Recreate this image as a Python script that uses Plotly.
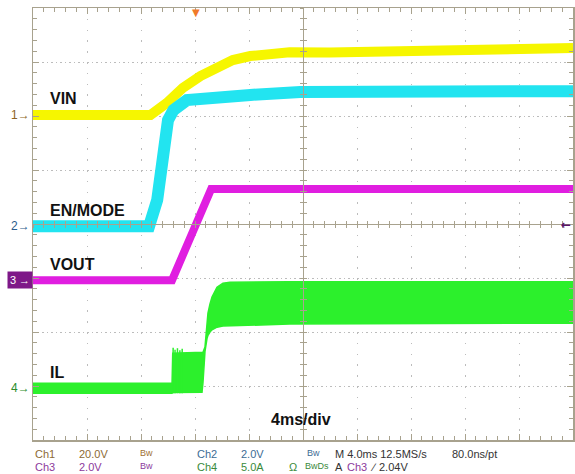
import plotly.graph_objects as go

# ---------------- data ----------------
# time in ms (4 ms/div, 0 = screen centre)
vin_t = [-20, -11.3, -10.1, -8.9, -7.6, -6.4, -5.2, -3.9, -2.4, -1.0, 2.0, 5.3, 5.7, 8.7, 13.1, 16.1, 20]
vin_v = [0, 0, 4.4, 10.0, 14.4, 17.7, 20.3, 21.8, 22.6, 23.2, 23.1, 23.3, 24.2, 24.4, 24.5, 24.8, 24.8]  # V

en_t = [-20, -11.4, -10.8, -10.4, -10.0, -9.6, -8.6, -3.9, -0.2, 20]
en_v = [0, 0, 0.97, 2.82, 3.93, 4.30, 4.67, 4.86, 4.97, 5.0]  # V

vout_t = [-20, -9.7, -6.8, 20]
vout_v = [0, 0, 3.38, 3.38]  # V

il_t = [-20, -9.70, -9.65, -7.48, -7.41, -7.26, -7.11, -7.04, -6.89, -6.74, -6.37, -5.93, -5.41, -1.0, 20]
il_hi = [0.46, 0.46, 3.24, 3.30, 3.33, 3.80, 5.80, 6.94, 7.80, 8.43, 9.35, 9.72, 9.81, 9.85, 9.85]  # A
il_lo = [-0.46, -0.46, -0.40, -0.37, 0.50, 3.40, 4.60, 4.90, 5.20, 5.40, 5.65, 5.75, 5.83, 5.93, 6.02]  # A
il_spike_t = [-9.62, -9.48, -9.30, -9.12, -8.95]
il_spike_a = [3.75, 3.55, 3.70, 3.50, 3.65]

# scope settings
ch_labels = ["VIN", "EN/MODE", "VOUT", "IL"]
ch_scale = [20.0, 2.0, 2.0, 5.0]          # units per division
ch_offset = [2.02, -0.04, -1.04, -3.04]   # divisions
time_per_div = 4.0
n_hdiv, n_vdiv = 10, 8
trigger_time = -7.93     # ms
trigger_level = 2.04     # V on Ch3

row1 = ["Ch1", "20.0V", "Bw", "Ch2", "2.0V", "Bw", "M 4.0ms 12.5MS/s", "80.0ns/pt"]
row2 = ["Ch3", "2.0V", "Bw", "Ch4", "5.0A", "\u03a9", "BwDs", "A", "Ch3", "\u2215", "2.04V"]

# ---------------- styling ----------------
W, H = 575, 474
L, R, T, B = 33, 573, 8, 440
FONT = "Liberation Sans"
BORDER = "#a8a28e"
GRID = "#bcbcbc"
COL = ["#f6f600", "#22e4f0", "#e01ee0", "#2cf02c"]
TXT_COL = ["#8c6a34", "#3c6c94", "#8c3a9c", "#3a8a3a"]


def to_div(vals, ch):
    return [ch_offset[ch] + v / ch_scale[ch] for v in vals]


def px(xp):
    return (xp - L) / (R - L)


def py(yp):
    return (B - yp) / (B - T)


fig = go.Figure()

# IL band
il_hi_d = to_div(il_hi, 3)
il_lo_d = to_div(il_lo, 3)
fig.add_trace(go.Scatter(
    x=il_t + il_t[::-1], y=il_hi_d + il_lo_d[::-1], fill="toself",
    fillcolor=COL[3], line=dict(color=COL[3], width=1.5), mode="lines", hoverinfo="skip"))
sx, sy = [], []
base = to_div([il_lo[0]], 3)[0]
for t, a in zip(il_spike_t, il_spike_a):
    sx += [t, t, None]
    sy += [base, to_div([a], 3)[0], None]
fig.add_trace(go.Scatter(x=sx, y=sy, mode="lines", line=dict(color=COL[3], width=1.5), hoverinfo="skip"))

# VOUT, VIN, EN
fig.add_trace(go.Scatter(x=vout_t, y=to_div(vout_v, 2), mode="lines",
                         line=dict(color=COL[2], width=8), hoverinfo="skip"))
fig.add_trace(go.Scatter(x=vin_t, y=to_div(vin_v, 0), mode="lines",
                         line=dict(color=COL[0], width=10), hoverinfo="skip"))
fig.add_trace(go.Scatter(x=en_t, y=to_div(en_v, 1), mode="lines",
                         line=dict(color=COL[1], width=12), hoverinfo="skip"))

# invisible traces to hold the centre-cross axes
fig.add_trace(go.Scatter(x=[None], y=[None], xaxis="x2", yaxis="y2", hoverinfo="skip"))
fig.add_trace(go.Scatter(x=[None], y=[None], xaxis="x3", yaxis="y3", hoverinfo="skip"))

xr = [-time_per_div * n_hdiv / 2, time_per_div * n_hdiv / 2]
yr = [-n_vdiv / 2, n_vdiv / 2]

common = dict(showticklabels=False, zeroline=False, tickcolor=BORDER, linecolor=BORDER,
              fixedrange=True, automargin=False)
fig.update_layout(
    width=W, height=H, margin=dict(l=L, r=W - R, t=T, b=H - B, autoexpand=False),
    paper_bgcolor="white", plot_bgcolor="white", showlegend=False,
    xaxis=dict(range=xr, dtick=time_per_div, tick0=0, showgrid=True, gridcolor=GRID,
               griddash="1.5px,9.3px", gridwidth=1, showline=True, linewidth=1.5, mirror="allticks",
               ticks="inside", ticklen=6,
               minor=dict(dtick=time_per_div / 5, ticks="inside", ticklen=4, tickcolor=BORDER, showgrid=False),
               **common),
    yaxis=dict(range=yr, dtick=1, tick0=0, showgrid=True, gridcolor=GRID,
               griddash="1.5px,3px", gridwidth=1, showline=True, linewidth=1.5, mirror="allticks",
               ticks="inside", ticklen=6,
               minor=dict(dtick=0.2, ticks="inside", ticklen=4, tickcolor=BORDER, showgrid=False),
               **common),
    xaxis2=dict(range=xr, overlaying="x", anchor="free", position=0.5, showgrid=False, showline=True,
                linewidth=1, ticks="inside", ticklen=3, dtick=time_per_div, tick0=0,
                minor=dict(dtick=time_per_div / 5, ticks="inside", ticklen=3, tickcolor=BORDER), **common),
    yaxis2=dict(range=yr, overlaying="y", anchor="free", position=0.5, showgrid=False, showline=True,
                linewidth=1, ticks="inside", ticklen=3, dtick=1, tick0=0,
                minor=dict(dtick=0.2, ticks="inside", ticklen=3, tickcolor=BORDER), **common),
    xaxis3=dict(range=xr, overlaying="x", anchor="free", position=0.5, showgrid=False, showline=False,
                ticks="outside", ticklen=3, dtick=time_per_div, tick0=0,
                minor=dict(dtick=time_per_div / 5, ticks="outside", ticklen=3, tickcolor=BORDER), **common),
    yaxis3=dict(range=yr, overlaying="y", anchor="free", position=0.5, showgrid=False, showline=False,
                ticks="outside", ticklen=3, dtick=1, tick0=0,
                minor=dict(dtick=0.2, ticks="outside", ticklen=3, tickcolor=BORDER), **common),
)

ann = []
# trace labels
for text, (xp, yp) in zip(ch_labels, [(48, 98), (48, 210), (48, 264), (48, 372)]):
    ann.append(dict(x=px(xp), y=py(yp), xref="paper", yref="paper", text=f"<b>{text}</b>",
                    xanchor="left", yanchor="middle", showarrow=False,
                    font=dict(family=FONT, size=16, color="#111111")))
ann.append(dict(x=px(301), y=py(419), xref="paper", yref="paper", text="<b>4ms/div</b>",
                xanchor="center", yanchor="middle", showarrow=False,
                font=dict(family=FONT, size=16, color="#111111")))

# channel ground markers
mk_col = ["#8c6424", "#2c5c8c", "#ffffff", "#2c8c2c"]
for i in range(4):
    yd = ch_offset[i]
    if i == 2:
        ann.append(dict(x=px(33), y=yd, xref="paper", yref="y", text="3 \u2192", xanchor="right",
                        yanchor="middle", showarrow=False, bgcolor="#7e1888", borderpad=2,
                        font=dict(family=FONT, size=11, color="#ffffff"), width=20))
    else:
        ann.append(dict(x=px(32), y=yd, xref="paper", yref="y", text=f"{i + 1}\u2192", xanchor="right",
                        yanchor="middle", showarrow=False,
                        font=dict(family=FONT, size=12, color=mk_col[i])))

# trigger position and level
ann.append(dict(x=trigger_time, y=1, xref="x", yref="paper", text="\u25bc", xanchor="center",
                yanchor="top", showarrow=False, yshift=3,
                font=dict(family="DejaVu Sans", size=10, color="#f07a2a")))
ann.append(dict(x=px(566), y=ch_offset[2] + trigger_level / ch_scale[2], xref="paper", yref="y",
                text="<b>\u2190</b>", xanchor="center", yanchor="middle", showarrow=False,
                font=dict(family="DejaVu Sans", size=12, color="#5a1468")))

# status lines
r1_x = [33, 77, 138, 195, 239, 305, 333, 450]
r1_c = [TXT_COL[0], TXT_COL[0], "#a07030", TXT_COL[1], TXT_COL[1], TXT_COL[1], "#333333", "#333333"]
r2_x = [33, 77, 138, 195, 239, 287, 303, 333, 345, 368, 377]
r2_c = [TXT_COL[2], TXT_COL[2], TXT_COL[2], TXT_COL[3], TXT_COL[3], TXT_COL[3], TXT_COL[3],
        "#333333", TXT_COL[2], "#333333", "#333333"]
for texts, xs, cs, yp in [(row1, r1_x, r1_c, 454), (row2, r2_x, r2_c, 467)]:
    for t, xp, c in zip(texts, xs, cs):
        small = t.startswith("Bw")
        ann.append(dict(x=px(xp), y=py(yp - (1 if small else 0)), xref="paper", yref="paper", text=t,
                        xanchor="left", yanchor="middle", showarrow=False,
                        font=dict(family=FONT, size=9 if small else 11, color=c)))

fig.update_layout(annotations=ann)
fig.write_html("out.html", config={"displayModeBar": False, "staticPlot": True},
               post_script="document.body.style.margin='0';document.body.style.overflow='hidden';")
